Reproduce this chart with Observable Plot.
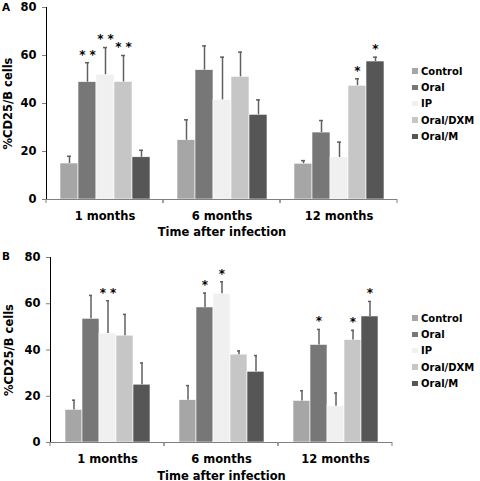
<!DOCTYPE html>
<html><head><meta charset="utf-8">
<script src="https://cdn.jsdelivr.net/npm/d3@7"></script>
<script src="https://cdn.jsdelivr.net/npm/@observablehq/plot@0.6"></script>
<style>
body{margin:0;background:#fff;}
#root{position:relative;width:480px;height:481px;overflow:hidden;font-family:"DejaVu Sans",sans-serif;font-weight:bold;color:#000;}
.panel{position:absolute;left:0;}
.tag{position:absolute;font-size:10.5px;font-weight:bold;line-height:1;}
.legend{position:absolute;left:412px;font-size:10px;}
.legend .item{display:flex;align-items:center;height:16.3px;white-space:nowrap;}
.legend .sw{width:5.5px;height:5.5px;margin-right:3.5px;flex:none;}
#root svg [aria-label^="y-axis"] path, #root svg [aria-label^="y-axis"] line {stroke:#808080;}
</style></head><body><div id="root"></div>
<script>
// ---- data ----
const months = ["1 months", "6 months", "12 months"];
const series = ["Control", "Oral", "IP", "Oral/DXM", "Oral/M"];
const colors = ["#a6a6a6", "#777777", "#f0f0f0", "#c6c6c6", "#565656"];
const axisTitleX = "Time after infection";
const axisTitleY = "%CD25/B cells";

// Panel A: means (per series, across months) and error (SD) sizes
const meanA_Control = [15.0, 24.7, 14.9];
const meanA_Oral    = [48.9, 53.9, 27.9];
const meanA_IP      = [52.0, 41.5, 17.5];
const meanA_DXM     = [49.0, 51.1, 47.4];
const meanA_M       = [17.6, 35.3, 57.5];
const errA_Control  = [3.0, 8.5, 1.3];
const errA_Oral     = [8.1, 10.1, 5.0];
const errA_IP       = [11.3, 17.8, 6.4];
const errA_DXM      = [11.0, 10.3, 2.9];
const errA_M        = [2.9, 6.2, 1.8];
const starA_Control = ["", "", ""];
const starA_Oral    = ["**", "", ""];
const starA_IP      = ["**", "", ""];
const starA_DXM     = ["**", "", "*"];
const starA_M       = ["", "", "*"];

// Panel B
const meanB_Control = [14.1, 18.3, 18.0];
const meanB_Oral    = [53.5, 58.4, 42.2];
const meanB_IP      = [47.1, 64.3, 15.7];
const meanB_DXM     = [46.2, 38.0, 44.3];
const meanB_M       = [25.0, 30.6, 54.5];
const errB_Control  = [4.2, 6.3, 4.4];
const errB_Oral     = [10.1, 6.2, 6.7];
const errB_IP       = [14.2, 5.2, 5.7];
const errB_DXM      = [9.2, 1.6, 4.2];
const errB_M        = [9.4, 7.0, 6.5];
const starB_Control = ["", "", ""];
const starB_Oral    = ["", "*", "*"];
const starB_IP      = ["**", "*", ""];
const starB_DXM     = ["", "", "*"];
const starB_M       = ["", "", "*"];

function buildRows(means, errs, stars) {
  const rows = [];
  months.forEach((m, i) => {
    series.forEach((s, j) => {
      rows.push({month: m, series: s, value: means[j][i], upper: means[j][i] + errs[j][i], star: stars[j][i]});
    });
  });
  return rows;
}
const rowsA = buildRows(
  [meanA_Control, meanA_Oral, meanA_IP, meanA_DXM, meanA_M],
  [errA_Control, errA_Oral, errA_IP, errA_DXM, errA_M],
  [starA_Control, starA_Oral, starA_IP, starA_DXM, starA_M]);
const rowsB = buildRows(
  [meanB_Control, meanB_Oral, meanB_IP, meanB_DXM, meanB_M],
  [errB_Control, errB_Oral, errB_IP, errB_DXM, errB_M],
  [starB_Control, starB_Oral, starB_IP, starB_DXM, starB_M]);

// small tick marks at the group (facet) boundaries, Excel-style
function boundaryTicks(index, scales, values, dimensions) {
  const ns = "http://www.w3.org/2000/svg";
  const {width, height, marginLeft, marginRight, marginBottom} = dimensions;
  const y0 = height - marginBottom;
  const g = document.createElementNS(ns, "g");
  for (const x of [marginLeft, width - marginRight]) {
    const l = document.createElementNS(ns, "line");
    l.setAttribute("x1", x); l.setAttribute("x2", x);
    l.setAttribute("y1", y0); l.setAttribute("y2", y0 + 4);
    l.setAttribute("stroke", "#808080");
    g.appendChild(l);
  }
  return g;
}

function panel(rows, o) {
  return Plot.plot({
    width: 480, height: o.height,
    marginLeft: o.ml, marginRight: o.mr, marginTop: o.mt, marginBottom: o.mb,
    style: {fontFamily: "DejaVu Sans", fontWeight: "bold", fontSize: "11.5px", color: "#000", background: "transparent", overflow: "visible"},
    facet: {data: rows, x: "month"},
    fx: {domain: months, padding: 0, axis: "bottom", tickSize: 0, tickPadding: 12, label: axisTitleX, labelAnchor: "center", labelOffset: o.lx},
    x: {domain: series, paddingInner: 0, paddingOuter: 0.75, axis: null},
    y: {domain: [0, 80], ticks: 4, tickSize: 4, tickPadding: 6, line: true, label: axisTitleY, labelArrow: "none", labelAnchor: "center", labelOffset: o.ml - 3},
    color: {domain: series, range: colors},
    marks: [
      Plot.barY(rows, {x: "series", y: "value", fill: "series", stroke: "#ffffff", strokeWidth: 0.6}),
      Plot.ruleY([0], {stroke: "#808080"}),
      boundaryTicks,
      Plot.ruleX(rows, {x: "series", y1: "value", y2: "upper", stroke: "#606060", strokeWidth: 1.5}),
      Plot.tickY(rows, {x: "series", y: "upper", stroke: "#606060", strokeWidth: 1.5, insetLeft: 7, insetRight: 7}),
      Plot.text(rows, {x: "series", y: "upper", text: d => d.star.split("").join(" "), dy: -8, fontSize: 12, fill: "#000"})
    ]
  });
}

const root = document.getElementById("root");
function place(el, top) { el.classList.add("panel"); el.style.top = top + "px"; root.appendChild(el); }
place(panel(rowsA, {height: 240, ml: 46, mr: 83, mt: 7, mb: 41, lx: 36}), 0);
place(panel(rowsB, {height: 241, ml: 49, mr: 88, mt: 17, mb: 39, lx: 37}), 240);

function tag(text, left, top) {
  const d = document.createElement("div");
  d.className = "tag"; d.textContent = text;
  d.style.left = left + "px"; d.style.top = top + "px";
  root.appendChild(d);
}
tag("A", 2, 2);
tag("B", 2, 251);

function legend(top) {
  const d = document.createElement("div");
  d.className = "legend"; d.style.top = top + "px";
  series.forEach((s, i) => {
    const it = document.createElement("div"); it.className = "item";
    const sw = document.createElement("span"); sw.className = "sw"; sw.style.background = colors[i];
    const tx = document.createElement("span"); tx.textContent = s;
    it.appendChild(sw); it.appendChild(tx); d.appendChild(it);
  });
  root.appendChild(d);
}
legend(63);
legend(310);
</script></body></html>
